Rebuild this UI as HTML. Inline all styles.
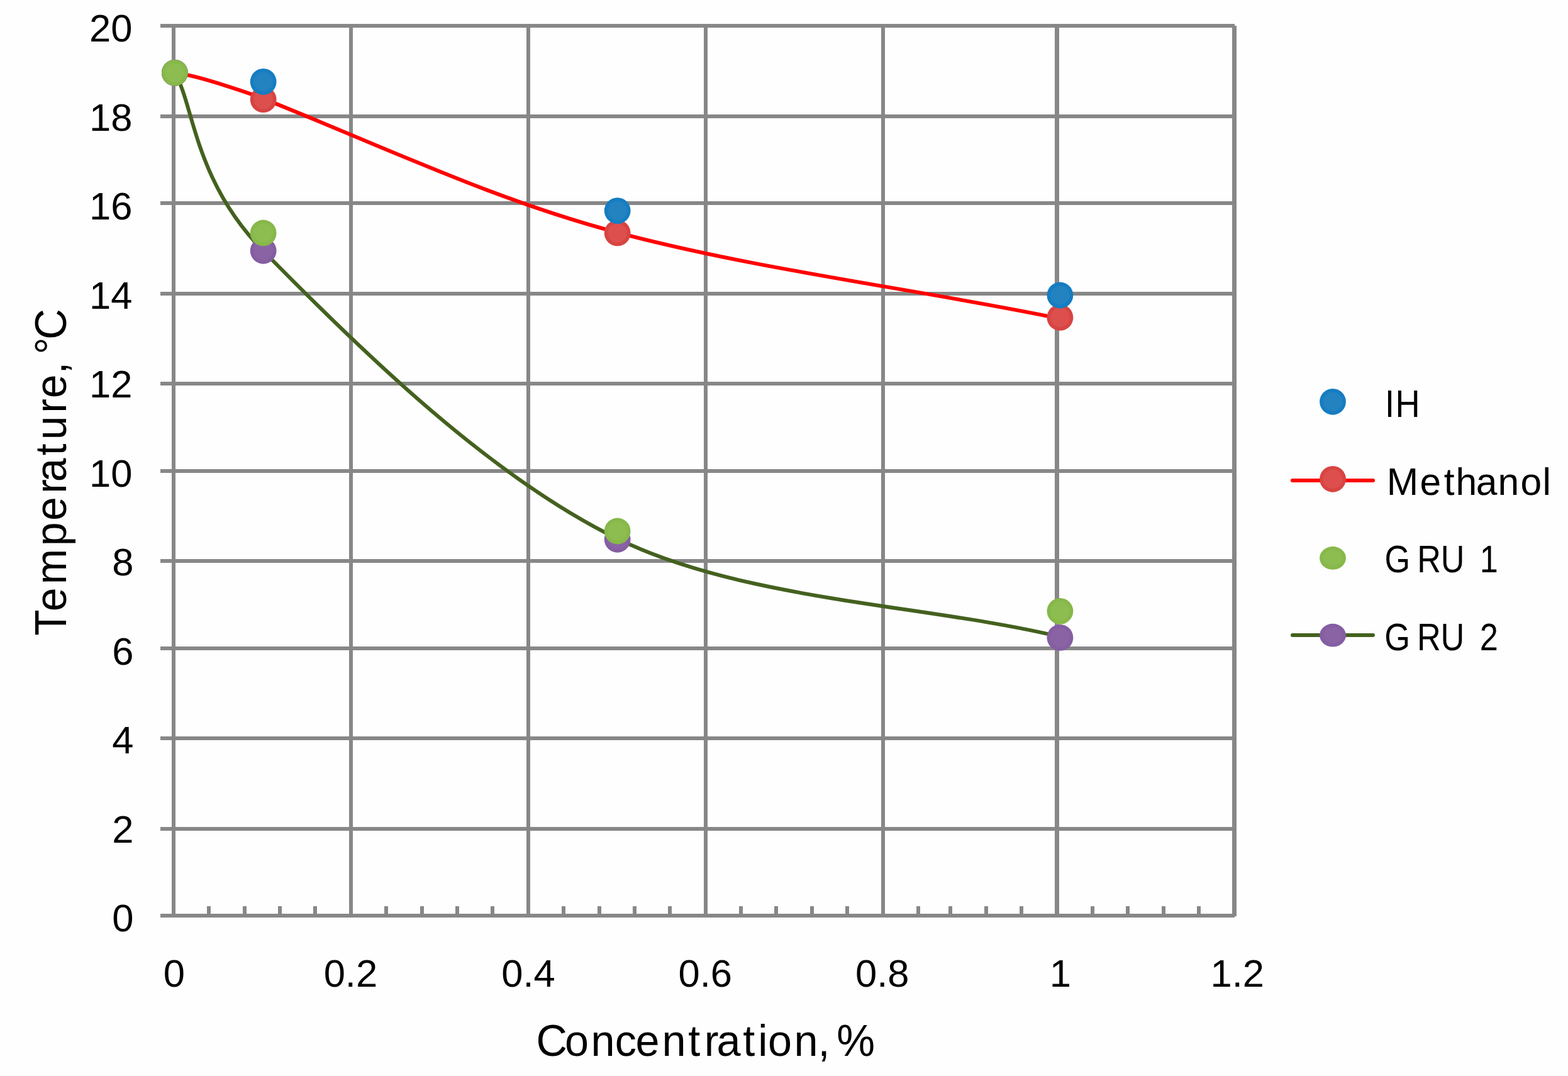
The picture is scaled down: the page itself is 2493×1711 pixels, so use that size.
<!DOCTYPE html>
<html><head><meta charset="utf-8"><title>Temperature vs Concentration</title>
<style>html,body{margin:0;padding:0;background:#FEFEFE;overflow:hidden;}svg{display:block;}</style></head>
<body>
<svg width="2493" height="1711" viewBox="0 0 2493 1711">
<rect width="2493" height="1711" fill="#FEFEFE"/>
<g fill="#878787" shape-rendering="crispEdges"><rect x="255" y="38" width="1708" height="6"/><rect x="255" y="182" width="1708" height="6"/><rect x="255" y="320" width="1708" height="6"/><rect x="255" y="464" width="1708" height="6"/><rect x="255" y="607" width="1708" height="6"/><rect x="255" y="746" width="1708" height="6"/><rect x="255" y="889" width="1708" height="6"/><rect x="255" y="1028" width="1708" height="6"/><rect x="255" y="1171" width="1708" height="6"/><rect x="255" y="1315" width="1708" height="6"/><rect x="255" y="1453" width="1708" height="6"/><rect x="273" y="38" width="6" height="1421"/><rect x="555" y="38" width="6" height="1421"/><rect x="837" y="38" width="6" height="1421"/><rect x="1119" y="38" width="6" height="1421"/><rect x="1401" y="38" width="6" height="1421"/><rect x="1677" y="38" width="7" height="1421"/><rect x="1959" y="41" width="7" height="1416"/><rect x="329" y="1441" width="6" height="12"/><rect x="386" y="1441" width="6" height="12"/><rect x="442" y="1441" width="6" height="12"/><rect x="498" y="1441" width="6" height="12"/><rect x="611" y="1441" width="6" height="12"/><rect x="668" y="1441" width="6" height="12"/><rect x="724" y="1441" width="6" height="12"/><rect x="780" y="1441" width="6" height="12"/><rect x="893" y="1441" width="6" height="12"/><rect x="950" y="1441" width="6" height="12"/><rect x="1006" y="1441" width="6" height="12"/><rect x="1062" y="1441" width="6" height="12"/><rect x="1175" y="1441" width="6" height="12"/><rect x="1231" y="1441" width="6" height="12"/><rect x="1288" y="1441" width="6" height="12"/><rect x="1344" y="1441" width="6" height="12"/><rect x="1457" y="1441" width="6" height="12"/><rect x="1508" y="1441" width="6" height="12"/><rect x="1565" y="1441" width="6" height="12"/><rect x="1621" y="1441" width="6" height="12"/><rect x="1734" y="1441" width="6" height="12"/><rect x="1790" y="1441" width="6" height="12"/><rect x="1847" y="1441" width="6" height="12"/><rect x="1903" y="1441" width="6" height="12"/></g>
<path d="M277.90,115.75 C315.47,119.52 405.70,151.66 419.31,157.10 C615.38,235.39 786.28,318.18 981.96,369.84 C1208.95,429.76 1453.28,458.82 1684.95,506.53" fill="none" stroke="#FF0000" stroke-width="6.0" stroke-linecap="round" stroke-linejoin="round"/>
<ellipse cx="277.90" cy="115.75" rx="20.9" ry="20.9" fill="#D74442"/><ellipse cx="277.90" cy="115.75" rx="15.30" ry="15.30" fill="#DC4F4D"/>
<ellipse cx="418.65" cy="158.20" rx="20.9" ry="20.9" fill="#D74442"/><ellipse cx="418.65" cy="158.20" rx="15.30" ry="15.30" fill="#DC4F4D"/>
<ellipse cx="981.65" cy="370.45" rx="20.9" ry="20.9" fill="#D74442"/><ellipse cx="981.65" cy="370.45" rx="15.30" ry="15.30" fill="#DC4F4D"/>
<ellipse cx="1685.40" cy="504.88" rx="20.9" ry="20.9" fill="#D74442"/><ellipse cx="1685.40" cy="504.88" rx="15.30" ry="15.30" fill="#DC4F4D"/>
<ellipse cx="277.90" cy="115.75" rx="20.9" ry="20.9" fill="#157DC1"/><ellipse cx="277.90" cy="115.75" rx="15.30" ry="15.30" fill="#2382C0"/>
<ellipse cx="418.65" cy="129.90" rx="20.9" ry="20.9" fill="#157DC1"/><ellipse cx="418.65" cy="129.90" rx="15.30" ry="15.30" fill="#2382C0"/>
<ellipse cx="981.65" cy="335.08" rx="20.9" ry="20.9" fill="#157DC1"/><ellipse cx="981.65" cy="335.08" rx="15.30" ry="15.30" fill="#2382C0"/>
<ellipse cx="1685.40" cy="469.50" rx="20.9" ry="20.9" fill="#157DC1"/><ellipse cx="1685.40" cy="469.50" rx="15.30" ry="15.30" fill="#2382C0"/>
<path d="M277.90,115.75 C308.54,166.98 308.16,286.10 418.17,398.51 C580.32,564.18 782.32,759.36 982.14,856.89 C1184.46,955.65 1475.85,961.73 1685.81,1012.71" fill="none" stroke="#44611F" stroke-width="6.0" stroke-linecap="round" stroke-linejoin="round"/>
<ellipse cx="277.90" cy="115.75" rx="20.9" ry="20.9" fill="#855EA2"/><ellipse cx="277.90" cy="115.75" rx="15.30" ry="15.30" fill="#8A63A5"/>
<ellipse cx="418.65" cy="398.75" rx="20.9" ry="20.9" fill="#855EA2"/><ellipse cx="418.65" cy="398.75" rx="15.30" ry="15.30" fill="#8A63A5"/>
<ellipse cx="981.65" cy="857.80" rx="20.9" ry="20.9" fill="#855EA2"/><ellipse cx="981.65" cy="857.80" rx="15.30" ry="15.30" fill="#8A63A5"/>
<ellipse cx="1685.40" cy="1013.90" rx="20.9" ry="20.9" fill="#855EA2"/><ellipse cx="1685.40" cy="1013.90" rx="15.30" ry="15.30" fill="#8A63A5"/>
<ellipse cx="277.90" cy="115.75" rx="20.9" ry="20.9" fill="#87B84A"/><ellipse cx="277.90" cy="115.75" rx="15.30" ry="15.30" fill="#8DBC50"/>
<ellipse cx="418.65" cy="370.45" rx="20.9" ry="20.9" fill="#87B84A"/><ellipse cx="418.65" cy="370.45" rx="15.30" ry="15.30" fill="#8DBC50"/>
<ellipse cx="981.65" cy="844.48" rx="20.9" ry="20.9" fill="#87B84A"/><ellipse cx="981.65" cy="844.48" rx="15.30" ry="15.30" fill="#8DBC50"/>
<ellipse cx="1685.40" cy="971.83" rx="20.9" ry="20.9" fill="#87B84A"/><ellipse cx="1685.40" cy="971.83" rx="15.30" ry="15.30" fill="#8DBC50"/>
<g font-family="&quot;Liberation Sans&quot;, Arial, sans-serif" fill="#000"><text x="212.5" y="1481.10" text-anchor="end" font-size="61.5">0</text><text x="212.5" y="1339.60" text-anchor="end" font-size="61.5">2</text><text x="212.5" y="1198.10" text-anchor="end" font-size="61.5">4</text><text x="212.5" y="1056.60" text-anchor="end" font-size="61.5">6</text><text x="212.5" y="915.10" text-anchor="end" font-size="61.5">8</text><text x="210.5" y="773.60" text-anchor="end" font-size="61.5">10</text><text x="210.5" y="632.10" text-anchor="end" font-size="61.5">12</text><text x="210.5" y="490.60" text-anchor="end" font-size="61.5">14</text><text x="210.5" y="349.10" text-anchor="end" font-size="61.5">16</text><text x="210.5" y="207.60" text-anchor="end" font-size="61.5">18</text><text x="210.5" y="66.10" text-anchor="end" font-size="61.5">20</text><text x="276.8" y="1569.3" text-anchor="middle" font-size="61.5">0</text><text x="557.4" y="1569.3" text-anchor="middle" font-size="61.5">0.2</text><text x="840" y="1569.3" text-anchor="middle" font-size="61.5">0.4</text><text x="1121.3" y="1569.3" text-anchor="middle" font-size="61.5">0.6</text><text x="1402.7" y="1569.3" text-anchor="middle" font-size="61.5">0.8</text><text x="1685.8" y="1569.3" text-anchor="middle" font-size="61.5">1</text><text x="1967.2" y="1569.3" text-anchor="middle" font-size="61.5">1.2</text><text transform="translate(0 1678.90) scale(0.9639 1)" x="884.32 931.65 974.66 1014.45 1048.25 1091.89 1135.17 1161.71 1182.24 1225.58 1250.52 1266.71 1309.76 1349.15 1368.85 1380.08" y="0" font-size="70.9" >Concentration, %</text><text transform="translate(105.00 0) rotate(-90) scale(0.9548 1)" x="-1058.53 -1018.30 -973.14 -909.01 -867.27 -821.97 -802.59 -758.68 -732.33 -687.92 -663.26 -622.52 -602.82 -590.16 -565.60" y="0" font-size="70.9" >Temperature, °C</text><text transform="translate(0 663.00) scale(0.8818 1)" x="2497.22 2515.77" y="0" font-size="61.5" >IH</text><text transform="translate(0 786.80) scale(0.9837 1)" x="2241.25 2295.02 2333.82 2352.81 2385.71 2421.10 2457.49 2493.26" y="0" font-size="61.5" >Methanol</text><text transform="translate(0 909.90) scale(0.8489 1)" x="2593.37 2641.21 2654.30 2698.43 2742.85 2771.59" y="0" font-size="61.5" >G RU 1</text><text transform="translate(0 1034.10) scale(0.8512 1)" x="2586.20 2634.03 2646.96 2690.97 2735.39 2763.91" y="0" font-size="61.5" >G RU 2</text></g>
<ellipse cx="2119.00" cy="638.80" rx="20.9" ry="20.9" fill="#157DC1"/><ellipse cx="2119.00" cy="638.80" rx="15.30" ry="15.30" fill="#2382C0"/><line x1="2055" y1="764" x2="2183" y2="764" stroke="#FF0000" stroke-width="6.1" stroke-linecap="round"/><ellipse cx="2119.00" cy="761.80" rx="20.9" ry="20.9" fill="#D74442"/><ellipse cx="2119.00" cy="761.80" rx="15.30" ry="15.30" fill="#DC4F4D"/><ellipse cx="2119.00" cy="887.40" rx="20.9" ry="18.4" fill="#87B84A"/><ellipse cx="2119.00" cy="887.40" rx="15.30" ry="12.80" fill="#8DBC50"/><line x1="2055" y1="1010" x2="2183" y2="1010" stroke="#44611F" stroke-width="6" stroke-linecap="round"/><ellipse cx="2119.00" cy="1010.20" rx="20.9" ry="18.4" fill="#855EA2"/><ellipse cx="2119.00" cy="1010.20" rx="15.30" ry="12.80" fill="#8A63A5"/>
</svg>
</body></html>
